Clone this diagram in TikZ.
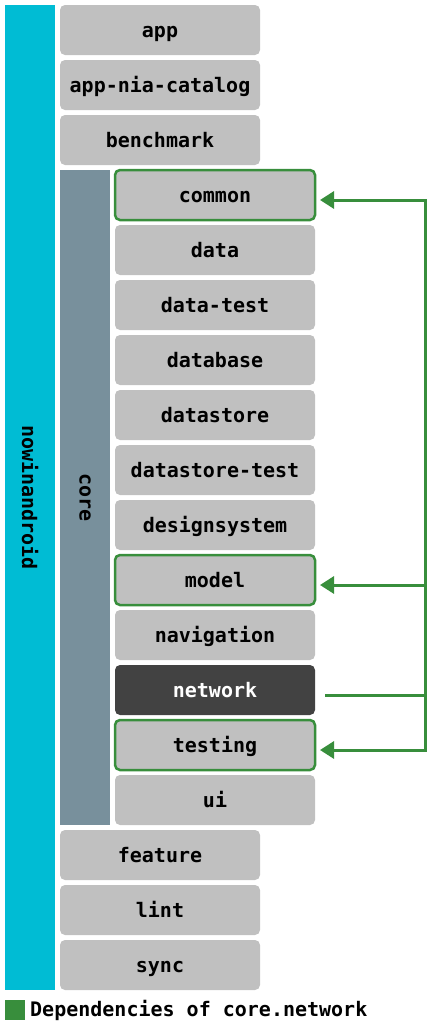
\documentclass[tikz,border=0pt]{standalone}
\usepackage{fontspec}
\setmonofont{DejaVu Sans Mono}
\usetikzlibrary{positioning}
\usetikzlibrary{arrows.meta}
\definecolor{niaTeal}{HTML}{00BCD4}
\definecolor{coreGrey}{HTML}{78909C}
\definecolor{modGrey}{HTML}{C0C0C0}
\definecolor{modDark}{HTML}{424242}
\definecolor{depGreen}{HTML}{388E3C}
\tikzset{
        modfont/.style={font=\ttfamily\bfseries\fontsize{20}{22}\selectfont},
        % Project bar
        bar_project/.style={modfont, rectangle, fill=niaTeal, text=black, rotate=-90, minimum width=985pt, minimum height=50pt, inner sep=0pt, outer sep=0pt},
        % Core bar
        bar_core/.style={modfont, rectangle, fill=coreGrey, text=black, rotate=-90, minimum width=655pt, minimum height=50pt, inner sep=0pt, outer sep=0pt},
        % Plain modules
        module/.style={modfont, rectangle, rounded corners=5pt, fill=modGrey, text=black, minimum width=200pt, minimum height=50pt, text height=14pt, text depth=0pt, inner sep=0pt, outer sep=0pt},
        % Dependencies of the selected module
        module_dep/.style={module, draw=depGreen, line width=2.5pt},
        % Selected module
        module_sel/.style={module, fill=modDark, text=white},
        % Dependency lines
        depline/.style={draw=depGreen, line width=3pt},
        deparrow/.style={depline, -{Triangle[length=14pt,width=17pt]}},
        % Legend
        legendkey/.style={rectangle, fill=depGreen, minimum size=20pt, inner sep=0pt, outer sep=0pt},
        legendtext/.style={modfont, text=black, inner sep=0pt, anchor=west}
}
\begin{document}
\begin{tikzpicture}[x=1pt, y=-1pt, node distance=5pt]
    \useasboundingbox (0,0) rectangle (430,1026);
    \node[bar_project] (nowinandroid) at (30,497.5) {nowinandroid};
    \node[module, anchor=north west] (app) at (60,5) {app};
    \node[module, below=of app] (catalog) {app-nia-catalog};
    \node[module, below=of catalog] (benchmark) {benchmark};
    \node[bar_core] (core) at (85,497.5) {core};
    \node[module_dep, anchor=north west] (common) at (115,170) {common};
    \node[module, below=of common] (data) {data};
    \node[module, below=of data] (datatest) {data-test};
    \node[module, below=of datatest] (database) {database};
    \node[module, below=of database] (datastore) {datastore};
    \node[module, below=of datastore] (datastoretest) {datastore-test};
    \node[module, below=of datastoretest] (designsystem) {designsystem};
    \node[module_dep, below=of designsystem] (model) {model};
    \node[module, below=of model] (navigation) {navigation};
    \node[module_sel, below=of navigation] (network) {network};
    \node[module_dep, below=of network] (testing) {testing};
    \node[module, below=of testing] (ui) {ui};
    \node[module, anchor=north west] (feature) at (60,830) {feature};
    \node[module, below=of feature] (lint) {lint};
    \node[module, below=of lint] (sync) {sync};

    % dependencies of network
    \draw[depline] ([shift={(10,5)}]network.east) -- ++(100,0) coordinate (bus);
    \draw[deparrow] (bus) |- ([shift={(5,5)}]common.east);
    \draw[deparrow] (bus) |- ([shift={(5,5)}]model.east);
    \draw[deparrow] (bus) |- ([shift={(5,5)}]testing.east);

    % legend
    \node[legendkey] (key) at (15,1010) {};
    \node[legendtext, right=5pt of key] (legend) {Dependencies of core.network};
\end{tikzpicture}
\end{document}
